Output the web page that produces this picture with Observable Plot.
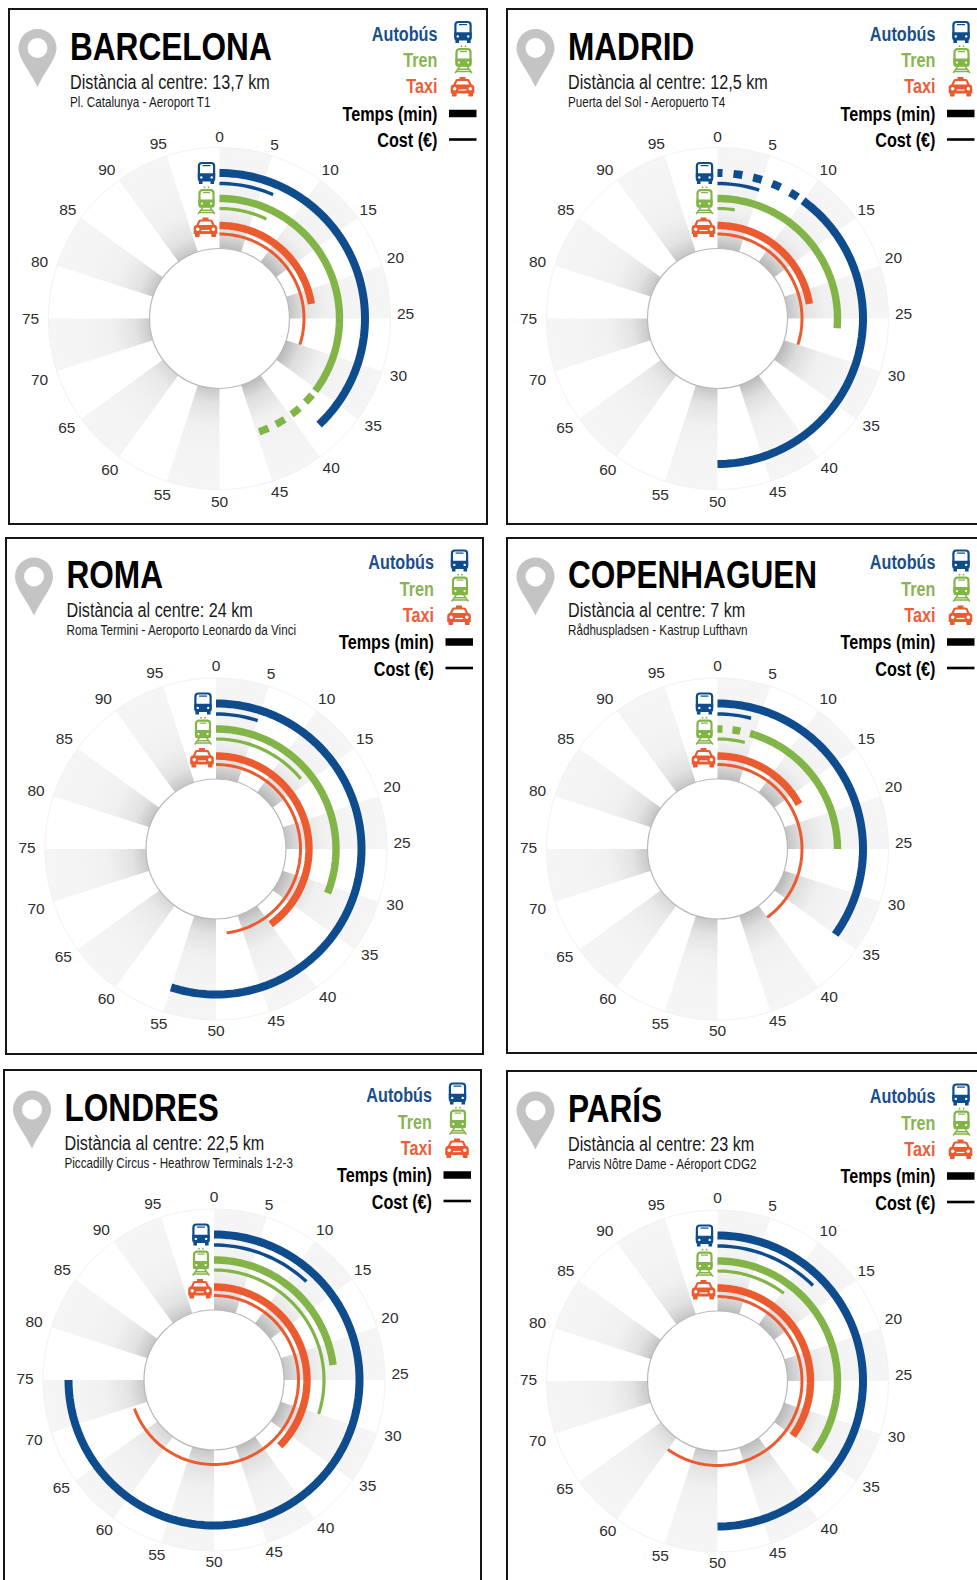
<!DOCTYPE html>
<html>
<head>
<meta charset="utf-8">
<script src="https://cdn.jsdelivr.net/npm/d3@7"></script>
<script src="https://cdn.jsdelivr.net/npm/@observablehq/plot@0.6"></script>
<style>
html,body{margin:0;padding:0;background:#fff}
#page{position:relative;width:977px;height:1580px;overflow:hidden;background:#fff}
.frame{position:absolute;box-sizing:border-box;border:2px solid #161616}
#page svg{position:absolute;overflow:visible;background:transparent}
</style>
</head>
<body>
<div id="page"></div>
<script>
// ---------- chart values (minutes / euros, read on the 0-100 circular scale) ----------
const cities = ["BARCELONA", "MADRID", "ROMA", "COPENHAGUEN", "LONDRES", "PARÍS"];
const distances = ["13,7", "12,5", "24", "7", "22,5", "23"];
const routes = [
  "Pl. Catalunya - Aeroport T1",
  "Puerta del Sol - Aeropuerto T4",
  "Roma Termini - Aeroporto Leonardo da Vinci",
  "Rådhuspladsen - Kastrup Lufthavn",
  "Piccadilly Circus - Heathrow Terminals 1-2-3",
  "Parvis Nôtre Dame - Aéroport CDG2"
];
const busTimeFrom   = [0, 10, 0, 0, 0, 0];
const busTimeTo     = [38, 50, 55, 35, 75, 50];
const busDashTo     = [0, 10, 0, 0, 0, 0];
const trainTimeFrom = [0, 0, 0, 5, 0, 0];
const trainTimeTo   = [35.3, 26.3, 31, 25, 23, 35];
const trainDashFrom = [35.3, 0, 0, 0, 0, 0];
const trainDashTo   = [45, 0, 0, 5, 0, 0];
const taxiTime      = [22.5, 22.5, 40, 17, 37.5, 35];
const busCost       = [6.5, 5, 5, 4, 12, 12.5];
const trainCost     = [7, 2.5, 14, 4, 30, 10.3];
const taxiCost      = [30, 30, 48, 40, 69.5, 60];
const tickLabels    = d3.range(0, 100, 5);
const legendNames   = ["Autobús", "Tren", "Taxi"];

// ---------- layout of the six panels ----------
const frameLeft   = [8, 505.5, 5, 505.5, 3, 505.5];
const frameTop    = [8, 8, 537, 537, 1069, 1070];
const frameRight  = [488, 1000, 484, 1000, 482, 1000];
const frameBottom = [525, 525, 1055, 1054, 1600, 1600];
const centerX     = [219, 716.5, 215.5, 716.5, 213.5, 716.5];
const centerY     = [318, 318, 848.5, 848.5, 1379.5, 1380.5];
const headerShift = [0, 0, -2, -2, 0, 0];
const tickShift   = [0, 0, -1.5, -1.5, -1.5, -1.5];
// small label nudges that the reference dial shows (px), one pair per tick label
const tickNudgeX = [0,-2,2,-1,0,1,3,4,3,3,0,0,-1,-3,-4,-4,-4,-2,-4,-4];
const tickNudgeY = [5,3,2,1,-2,-3,1,0,1,-1,0,2,3,2,5,2,2,1,2,2];

const colors = {bus: "#0f4c8d", train: "#82b447", taxi: "#ec5a30"};
const legendColors = ["#1a4f8b", "#8ab454", "#e8603c"];
const wedgeShades = ["#bcbcbc","#b8b8b8","#c4c4c4","#b8b8b8","#bcbcbc","#c8c8c8","#d8d8d8","#cacaca","#c6c6c6","#c6c6c6"];
const narrow = "'Liberation Sans Narrow','Liberation Sans',Arial,sans-serif";
const sans = "'Liberation Sans',Arial,sans-serif";
const NARROW_SCALE = 0.81;

const R_OUT = 171, R_IN = 70;
const radii = {busT: 145.5, busC: 135, trainT: 120, trainC: 110, taxiT: 93, taxiC: 84.5};

// polar position on the 100-minute dial
const px = (m, r) => r * Math.sin(m * 3.6 * Math.PI / 180);
const py = (m, r) => -r * Math.cos(m * 3.6 * Math.PI / 180);
function arcPoints(a, b, r) {
  const n = Math.max(2, Math.ceil(Math.abs(b - a) * 2) + 1);
  return d3.range(n).map(k => { const m = a + (b - a) * k / (n - 1); return {x: px(m, r), y: py(m, r)}; });
}
function arc(a, b, r, stroke, strokeWidth, extra = {}) {
  return Plot.line(arcPoints(a, b, r), {x: "x", y: "y", stroke, strokeWidth, strokeLinecap: "butt", ...extra});
}

const busIcon = c => `
 <rect x="-7.6" y="-10" width="15.2" height="17" rx="3" fill="#fff" stroke="${c}" stroke-width="2.2"/>
 <rect x="-4" y="-8" width="8" height="1.2" fill="${c}"/>
 <path d="M-8.7 0.2H8.7V6.2q0 2.4-2.4 2.4H-6.3q-2.4 0-2.4-2.4Z" fill="${c}"/>
 <rect x="-7.6" y="8" width="3.6" height="3" fill="${c}"/><rect x="4" y="8" width="3.6" height="3" fill="${c}"/>
 <circle cx="-5.2" cy="4.4" r="1.2" fill="#fff"/><circle cx="5.2" cy="4.4" r="1.2" fill="#fff"/>`;
const trainIcon = c => `
 <circle cx="-2" cy="-12.8" r=".9" fill="${c}"/><circle cx="2" cy="-12.8" r=".9" fill="${c}"/>
 <rect x="-7" y="-9.8" width="14" height="16" rx="3" fill="#fff" stroke="${c}" stroke-width="2.2"/>
 <rect x="-3.5" y="-8" width="7" height="1.2" fill="${c}"/>
 <path d="M-8.1 -0.6H8.1V5.6q0 2.2-2.2 2.2H-5.9q-2.2 0-2.2-2.2Z" fill="${c}"/>
 <circle cx="-4.6" cy="3.6" r="1.1" fill="#fff"/><circle cx="4.6" cy="3.6" r="1.1" fill="#fff"/>
 <path d="M-3.6 7.4L-8.4 14M3.6 7.4L8.4 14M-5.8 10.2H5.8M-7.4 12.6H7.4" stroke="${c}" stroke-width="1.5" fill="none"/>`;
const taxiIcon = c => `
 <rect x="-3" y="-10" width="6" height="2.6" fill="${c}"/>
 <path d="M-8.6 -1L-6 -6.6Q-5.6 -7 -5 -7H5Q5.6 -7 6 -6.6L8.6 -1Z" fill="#fff" stroke="${c}" stroke-width="2.2"/>
 <path d="M-9 -2.4H9Q11.8 -2 11.8 1V6.4H-11.8V1Q-11.8 -2 -9 -2.4Z" fill="${c}"/>
 <rect x="-10.6" y="6" width="4.8" height="3.6" rx="1" fill="${c}"/><rect x="5.8" y="6" width="4.8" height="3.6" rx="1" fill="${c}"/>
 <circle cx="-7.8" cy="1.8" r="1.7" fill="#fff"/><circle cx="7.8" cy="1.8" r="1.7" fill="#fff"/>
 <rect x="-4" y="2.4" width="8" height="1.2" fill="#fff"/>`;
const pinIcon = () => `
 <path fill-rule="evenodd" fill="#c4c4c4" d="M-19 0A19 19 0 0 1 19 0C19 11 8 22 0 39C-8 22 -19 11 -19 0ZM-10 0A10 10 0 1 0 10 0A10 10 0 1 0 -10 0Z"/>`;

function drawIcon(markup, dx, dy) {
  return (index, {x, y}) => {
    const g = d3.create("svg:g").attr("transform", `translate(${x(dx)},${y(dy)})`);
    g.html(markup);
    return g.node();
  };
}

const page = document.getElementById("page");

cities.forEach((city, i) => {
  const W = Math.min(frameRight[i], 977) - frameLeft[i];
  const H = Math.min(frameBottom[i], 1580) - frameTop[i];
  const ox = centerX[i] - frameLeft[i], oy = centerY[i] - frameTop[i];
  const hs = headerShift[i];

  const frame = document.createElement("div");
  frame.className = "frame";
  frame.style.cssText = `left:${frameLeft[i]}px;top:${frameTop[i]}px;width:${frameRight[i]-frameLeft[i]}px;height:${frameBottom[i]-frameTop[i]}px`;
  page.appendChild(frame);

  const gradients = (index, {x, y}) => {
    const defs = d3.create("svg:defs");
    wedgeShades.forEach((shade, k) => {
      const g = defs.append("radialGradient").attr("id", `w${i}-${k}`)
        .attr("gradientUnits", "userSpaceOnUse")
        .attr("cx", x(0)).attr("cy", y(0)).attr("r", R_OUT);
      [[0.41, shade], [0.5, d3.interpolateRgb(shade, "#f4f4f4")(0.6)], [0.63, "#f0f0f0"], [0.8, "#f4f4f4"], [1, "#f5f5f5"]]
        .forEach(([o, c]) => g.append("stop").attr("offset", o).attr("stop-color", c));
    });
    return defs.node();
  };

  const wedges = wedgeShades.map((_, k) => {
    const a = k * 10, b = a + 5;
    const pts = [...arcPoints(a, b, R_OUT), ...arcPoints(b, a, R_IN)];
    return Plot.line(pts, {x: "x", y: "y", fill: `url(#w${i}-${k})`, stroke: "none"});
  });

  const ring = arcPoints(0, 100, R_OUT);
  const arcs = [];
  // bus
  if (busDashTo[i] > 0) arcs.push(arc(0, busDashTo[i], radii.busT, colors.bus, 8, {strokeDasharray: "9,11", strokeDashoffset: 4}));
  arcs.push(arc(busTimeFrom[i], busTimeTo[i], radii.busT, colors.bus, 8));
  arcs.push(arc(0, busCost[i], radii.busC, colors.bus, 3.4));
  // train
  if (trainDashTo[i] > trainDashFrom[i]) arcs.push(arc(trainDashFrom[i], trainDashTo[i], radii.trainT, colors.train, 7.4,
    city === "BARCELONA" ? {strokeDasharray: "10,8.5", strokeDashoffset: -5} : {strokeDasharray: "8,10", strokeDashoffset: 3}));
  arcs.push(arc(trainTimeFrom[i], trainTimeTo[i], radii.trainT, colors.train, 7.4));
  arcs.push(arc(0, trainCost[i], radii.trainC, colors.train, 3.2));
  // taxi
  arcs.push(arc(0, taxiTime[i], radii.taxiT, colors.taxi, 7.4));
  arcs.push(arc(0, taxiCost[i], radii.taxiC, colors.taxi, 3));

  const ticks = tickLabels.map((t, k) => ({t, x: px(t, 185) + tickNudgeX[k], y: py(t, 185) - 1 + tickNudgeY[k] + tickShift[i]}));
  const legendRows = [-284, -257.5, -231.5].map(v => v + hs);

  const plot = Plot.plot({
    width: W, height: H,
    marginTop: 0, marginBottom: 0, marginLeft: 0, marginRight: 0,
    x: {axis: null, domain: [-ox, W - ox], range: [0, W]},
    y: {axis: null, domain: [-oy, H - oy], range: [0, H]},
    style: {background: "transparent"},
    marks: [
      gradients,
      ...wedges,
      Plot.line(ring, {x: "x", y: "y", stroke: "#f2f2f2", strokeWidth: 1}),
      Plot.dot([{x: 0, y: 0}], {x: "x", y: "y", r: R_IN, fill: "#fff", stroke: "#b9b9b9", strokeWidth: 1.2}),
      ...arcs,
      Plot.text(ticks, {x: "x", y: "y", text: d => String(d.t), fontFamily: sans, fontSize: 15.5, fill: "#2e2e2e", textAnchor: "middle"}),
      // header
      drawIcon(pinIcon(), -181.5, -270 + hs),
      Plot.text([city], {x: () => -149.5, y: () => -259 + hs, text: d => d, fontFamily: narrow, fontWeight: 700, fontSize: 39, fill: "#000", textAnchor: "start", lineAnchor: "bottom"}),
      Plot.text([`Distància al centre: ${distances[i]} km`], {x: () => -149.5, y: () => -230 + hs, text: d => d, fontFamily: narrow, fontSize: 20, fill: "#1a1a1a", textAnchor: "start", lineAnchor: "bottom"}),
      Plot.text([routes[i]], {x: () => -149.5, y: () => -212 + hs, text: d => d, fontFamily: narrow, fontSize: 14.4, fill: "#1a1a1a", textAnchor: "start", lineAnchor: "bottom"}),
      // legend
      Plot.text(legendNames, {x: () => 218, y: (d, k) => legendRows[k], text: d => d, fill: (d, k) => legendColors[k], fontFamily: narrow, fontWeight: 700, fontSize: 20, textAnchor: "end"}),
      Plot.text(["Temps (min)"], {x: () => 218, y: () => -204 + hs, text: d => d, fontFamily: narrow, fontWeight: 700, fontSize: 20, fill: "#000", textAnchor: "end"}),
      Plot.text(["Cost (€)"], {x: () => 218, y: () => -177.5 + hs, text: d => d, fontFamily: narrow, fontWeight: 700, fontSize: 20, fill: "#000", textAnchor: "end"}),
      Plot.ruleY([-205 + hs], {x1: 230, x2: 257.5, stroke: "#000", strokeWidth: 7.5}),
      Plot.ruleY([-179 + hs], {x1: 230, x2: 257.5, stroke: "#000", strokeWidth: 2.6}),
      drawIcon(busIcon(colors.bus), 244, -286 + hs),
      drawIcon(trainIcon(colors.train), 244.5, -259 + hs),
      drawIcon(taxiIcon(colors.taxi), 243.5, -231 + hs),
      // dial icons
      drawIcon(busIcon(colors.bus), -12.5, -145),
      drawIcon(trainIcon(colors.train), -12.5, -118),
      drawIcon(taxiIcon(colors.taxi), -13.5, -90.5)
    ]
  });
  // no condensed face is installed: narrow the header and legend texts horizontally
  plot.querySelectorAll('g[font-family*="Narrow"] text').forEach(t => {
    t.setAttribute("transform", (t.getAttribute("transform") || "") + ` scale(${NARROW_SCALE},1)`);
  });
  plot.style.left = frameLeft[i] + "px";
  plot.style.top = frameTop[i] + "px";
  page.appendChild(plot);
});
</script>
</body>
</html>
